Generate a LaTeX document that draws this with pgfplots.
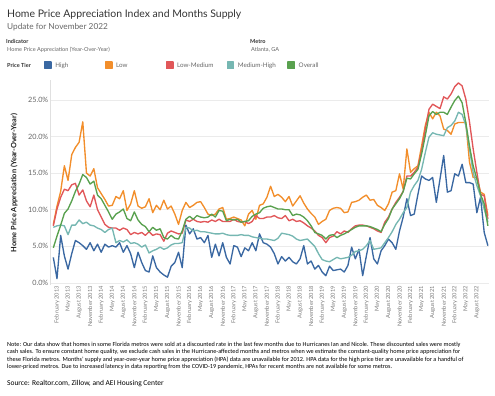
\documentclass[border=0pt]{standalone}
\usepackage{fontspec}
\setmainfont{Lato}
\newfontfamily\carlito{Carlito}
\usepackage{pgfplots}
\pgfplotsset{compat=1.18}
\usepackage{pgfplotstable}
\definecolor{cHigh}{HTML}{3A68A2}
\definecolor{cLow}{HTML}{F28E2B}
\definecolor{cLM}{HTML}{E15759}
\definecolor{cMH}{HTML}{76B7B2}
\definecolor{cOv}{HTML}{59A14F}
\definecolor{tdark}{HTML}{333333}
\definecolor{tgray}{HTML}{666666}
\definecolor{tlight}{HTML}{7A7A7A}
\newcommand\fs[1]{\fontsize{#1pt}{#1pt}\selectfont}

\pgfplotstableread{
m v
0 3.5
1 0.6
2 6.5
3 3.7
4 1.9
5 4.0
6 5.8
7 5.5
8 5.1
9 4.6
10 5.5
11 4.4
12 5.3
13 4.2
14 5.3
15 4.9
16 5.1
17 4.9
18 5.5
19 4.2
20 5.1
21 4.0
22 2.1
23 4.2
24 2.8
25 1.7
26 1.5
27 3.7
28 2.1
29 1.5
30 1.1
31 0.8
32 2.3
33 2.8
34 4.2
35 2.1
36 7.9
37 6.7
38 7.4
39 6.0
40 6.2
41 5.5
42 6.5
43 3.5
44 5.3
45 3.7
46 5.5
47 3.5
48 2.6
49 5.1
50 4.9
51 3.6
52 4.8
53 4.4
54 5.5
55 4.4
56 6.7
57 5.5
58 5.3
59 4.9
60 4.0
61 2.6
62 3.6
63 3.0
64 3.5
65 2.9
66 2.6
67 3.3
68 5.1
69 2.6
70 3.0
71 1.9
72 2.4
73 1.5
74 1.0
75 2.3
76 1.7
77 1.8
78 1.9
79 1.5
80 2.4
81 4.9
82 3.3
83 4.6
84 1.0
85 3.7
86 6.2
87 3.3
88 2.6
89 4.4
90 5.1
91 6.0
92 5.5
93 4.6
94 7.1
95 9.0
96 11.5
97 9.2
98 9.4
99 12.1
100 14.6
101 14.2
102 14.0
103 14.4
104 11.0
105 14.2
106 17.4
107 12.4
108 12.6
109 14.9
110 14.6
111 16.2
112 13.7
113 13.7
114 13.5
115 9.6
116 11.7
117 6.9
118 5.1
}\High

\pgfplotstableread{
m v
0 8.0
1 10.5
2 12.5
3 16.0
4 14.0
5 17.5
6 18.5
7 19.2
8 22.0
9 15.0
10 14.6
11 15.6
12 13.0
13 12.2
14 11.4
15 10.5
16 10.6
17 11.8
18 11.5
19 12.6
20 9.9
21 10.8
22 12.6
23 10.5
24 10.2
25 10.4
26 11.5
27 9.6
28 10.6
29 10.0
30 11.3
31 10.1
32 10.5
33 9.4
34 8.0
35 9.9
36 11.0
37 10.3
38 10.6
39 11.0
40 11.1
41 10.3
42 9.4
43 9.2
44 9.4
45 10.1
46 10.3
47 8.7
48 8.8
49 9.0
50 8.8
51 8.6
52 7.8
53 9.4
54 9.9
55 8.7
56 10.6
57 10.8
58 11.7
59 13.2
60 11.8
61 12.1
62 11.7
63 11.1
64 11.8
65 10.5
66 11.2
67 11.9
68 10.9
69 10.1
70 9.5
71 9.0
72 8.0
73 8.4
74 8.7
75 9.9
76 10.2
77 10.3
78 10.2
79 9.6
80 9.7
81 11.0
82 11.1
83 11.3
84 11.7
85 12.0
86 11.3
87 11.4
88 10.6
89 10.3
90 9.9
91 10.8
92 12.4
93 12.6
94 14.9
95 12.8
96 18.3
97 15.1
98 15.6
99 16.0
100 18.7
101 21.5
102 23.3
103 22.4
104 23.3
105 22.8
106 21.0
107 20.8
108 20.3
109 21.7
110 21.9
111 21.9
112 21.9
113 16.5
114 14.4
115 14.4
116 12.4
117 12.1
118 9.2
}\Low

\pgfplotstableread{
m v
0 7.8
1 10.1
2 11.7
3 12.8
4 12.6
5 13.4
6 13.6
7 12.0
8 12.7
9 11.2
10 10.4
11 12.0
12 10.0
13 9.0
14 8.0
15 7.6
16 7.5
17 7.5
18 7.2
19 7.5
20 7.3
21 6.6
22 6.9
23 6.7
24 6.9
25 6.5
26 7.0
27 6.5
28 6.7
29 6.6
30 5.7
31 6.8
32 7.1
33 6.9
34 6.7
35 6.8
36 8.6
37 8.4
38 8.7
39 8.4
40 8.3
41 8.4
42 8.3
43 8.6
44 8.4
45 8.7
46 8.4
47 8.4
48 8.4
49 8.7
50 8.4
51 8.3
52 8.4
53 8.1
54 8.4
55 9.2
56 8.8
57 8.8
58 9.0
59 9.0
60 9.2
61 8.9
62 8.8
63 9.2
64 8.5
65 8.7
66 8.4
67 8.5
68 8.2
69 7.8
70 7.5
71 7.1
72 6.5
73 6.2
74 5.5
75 6.2
76 6.4
77 7.0
78 6.7
79 7.1
80 6.9
81 7.4
82 7.8
83 7.9
84 7.9
85 7.8
86 7.6
87 7.4
88 7.1
89 6.9
90 8.3
91 9.0
92 10.1
93 11.0
94 11.7
95 12.5
96 14.6
97 14.6
98 15.1
99 15.8
100 18.0
101 21.0
102 23.7
103 24.4
104 24.1
105 23.8
106 25.4
107 25.1
108 25.8
109 26.8
110 27.3
111 26.9
112 25.1
113 22.0
114 18.3
115 15.1
116 12.1
117 11.9
118 8.7
}\LowMed

\pgfplotstableread{
m v
0 7.6
1 7.8
2 7.9
3 7.8
4 6.6
5 7.9
6 7.9
7 8.6
8 8.1
9 8.3
10 7.9
11 7.8
12 7.5
13 7.3
14 6.9
15 7.3
16 7.5
17 5.5
18 5.8
19 5.6
20 5.9
21 5.4
22 5.5
23 5.3
24 4.9
25 5.2
26 4.1
27 4.4
28 4.6
29 4.9
30 4.6
31 4.8
32 5.2
33 5.4
34 5.4
35 5.5
36 7.6
37 7.5
38 7.1
39 7.2
40 7.0
41 7.0
42 6.9
43 6.8
44 6.7
45 6.7
46 6.8
47 6.6
48 6.5
49 6.5
50 6.5
51 6.6
52 6.5
53 6.5
54 6.3
55 6.2
56 6.1
57 6.0
58 6.0
59 5.9
60 5.8
61 6.1
62 6.8
63 6.7
64 6.6
65 6.4
66 6.0
67 5.8
68 5.9
69 6.0
70 5.5
71 5.0
72 4.0
73 3.2
74 3.0
75 2.9
76 3.2
77 3.5
78 3.3
79 3.4
80 3.5
81 3.8
82 4.3
83 4.4
84 4.6
85 5.1
86 5.8
87 4.6
88 4.7
89 4.8
90 5.5
91 6.2
92 7.0
93 8.0
94 8.7
95 9.6
96 10.3
97 12.4
98 13.3
99 14.0
100 15.5
101 17.8
102 19.9
103 20.5
104 20.3
105 20.2
106 20.1
107 21.2
108 21.5
109 22.1
110 23.3
111 23.0
112 21.5
113 18.3
114 15.1
115 13.3
116 11.9
117 10.1
118 8.3
}\MedHigh

\pgfplotstableread{
m v
0 4.8
1 6.4
2 7.9
3 9.5
4 10.1
5 11.2
6 12.5
7 13.5
8 14.8
9 14.4
10 13.5
11 13.9
12 12.0
13 11.5
14 10.6
15 9.7
16 8.7
17 9.4
18 9.7
19 10.1
20 8.8
21 8.5
22 9.7
23 8.6
24 8.0
25 7.7
26 7.0
27 7.6
28 7.2
29 7.4
30 6.2
31 6.0
32 6.5
33 6.1
34 6.0
35 7.1
36 8.7
37 9.1
38 8.7
39 9.2
40 9.0
41 8.9
42 9.0
43 9.4
44 9.0
45 9.9
46 9.8
47 8.5
48 8.7
49 8.6
50 8.7
51 8.3
52 8.4
53 8.5
54 9.1
55 9.4
56 9.6
57 10.2
58 10.4
59 10.5
60 10.3
61 10.1
62 10.1
63 10.0
64 10.0
65 9.2
66 9.4
67 9.3
68 9.0
69 8.5
70 7.8
71 6.9
72 6.7
73 6.5
74 6.0
75 6.5
76 6.6
77 6.2
78 6.5
79 6.7
80 7.0
81 7.3
82 7.6
83 7.8
84 7.8
85 7.8
86 7.7
87 7.5
88 7.3
89 7.0
90 8.0
91 8.8
92 10.1
93 10.8
94 11.5
95 12.5
96 14.3
97 14.2
98 14.9
99 15.5
100 17.6
101 20.1
102 22.8
103 23.4
104 23.0
105 23.3
106 23.3
107 23.0
108 24.0
109 24.9
110 25.5
111 24.6
112 21.9
113 18.7
114 16.0
115 14.2
116 12.1
117 10.8
118 7.8
}\Overall

\begin{document}
\begin{tikzpicture}
\path[use as bounding box] (0bp,0bp) rectangle (495bp,396bp);
\begin{axis}[
  at={(50bp,111bp)}, anchor=south west,
  scale only axis, width=439bp, height=205bp,
  xmin=-0.9, xmax=118.3, ymin=-0.27, ymax=27.7,
  axis lines*=left,
  x axis line style={draw=none},
  y axis line style={draw=black!12, line width=0.5bp},
  major tick length=0pt,
  ytick={0,5,10,15,20,25},
  yticklabels={0.0\%,5.0\%,10.0\%,15.0\%,20.0\%,25.0\%},
  yticklabel style={font=\fs{7.3}, text=tgray, inner sep=1.5bp},
  ymajorgrids, major grid style={draw=black!8, line width=0.5bp},
  xtick={1,4,...,115},
  xticklabels={February 2013,May 2013,August 2013,November 2013,
    February 2014,May 2014,August 2014,November 2014,
    February 2015,May 2015,August 2015,November 2015,
    February 2016,May 2016,August 2016,November 2016,
    February 2017,May 2017,August 2017,November 2017,
    February 2018,May 2018,August 2018,November 2018,
    February 2019,May 2019,August 2019,November 2019,
    February 2020,May 2020,August 2020,November 2020,
    February 2021,May 2021,August 2021,November 2021,
    February 2022,May 2022,August 2022},
  xticklabel style={rotate=90, anchor=east, font=\fs{5.7}, text=tlight, inner sep=1bp},
  clip=false,
  every axis plot/.append style={line width=1.35bp, line join=round},
  legend columns=5,
  legend cell align=left,
  legend style={at={(-0.0137,1.0717)}, anchor=west, draw=none, fill=none,
    inner sep=0pt, outer sep=0pt, font=\fs{6.3}, text=tgray,
    nodes={inner sep=0pt}, /tikz/every even column/.append style={column sep=0pt}},
  legend image code/.code={\fill[#1] (0bp,-3bp) rectangle (6.5bp,3.5bp);},
]
\addplot[cHigh] table[x=m,y=v] {\High};
\addlegendentry{\hspace*{3.5bp}\makebox[49.5bp][l]{High}}
\addplot[cLow] table[x=m,y=v] {\Low};
\addlegendentry{\hspace*{3.5bp}\makebox[49.5bp][l]{Low}}
\addplot[cLM] table[x=m,y=v] {\LowMed};
\addlegendentry{\hspace*{3.5bp}\makebox[49.5bp][l]{Low-Medium}}
\addplot[cMH] table[x=m,y=v] {\MedHigh};
\addlegendentry{\hspace*{3.5bp}\makebox[49.5bp][l]{Medium-High}}
\addplot[cOv] table[x=m,y=v] {\Overall};
\addlegendentry{\hspace*{3.5bp}\makebox[49.5bp][l]{Overall}}
\end{axis}
\node[anchor=base west, inner sep=0pt, font=\fs{10.5}, text=tdark] at (7bp,378bp) {Home Price Appreciation Index and Months Supply};
\node[anchor=base west, inner sep=0pt, font=\fs{8.3}, text=tgray] at (7bp,366.5bp) {Update for November 2022};
\node[anchor=base west, inner sep=0pt, font=\bfseries\fs{5.6}, text=tdark] at (6bp,352.7bp) {Indicator};
\node[anchor=base west, inner sep=0pt, font=\fs{5.6}, text=tgray] at (7bp,344bp) {Home Price Appreciation (Year-Over-Year)};
\node[anchor=base west, inner sep=0pt, font=\bfseries\fs{5.6}, text=tdark] at (250bp,352.7bp) {Metro};
\node[anchor=base west, inner sep=0pt, font=\fs{5.6}, text=tgray] at (251bp,344bp) {Atlanta, GA};
\node[anchor=west, inner sep=0pt, font=\bfseries\fs{5.6}, text=tdark] at (7bp,330.7bp) {Price Tier};
\node[rotate=90, inner sep=0pt, font=\bfseries\fs{7.4}, text=black!90] at (14bp,213bp) {Home Price Appreciation (Year-Over-Year)};
\node[anchor=base west, inner sep=0pt, font=\carlito\fs{6.22}] at (7bp,49.5bp) {Note: Our data show that homes in some Florida metros were sold at a discounted rate in the last few months due to Hurricanes Ian and Nicole. These discounted sales were mostly};
\node[anchor=base west, inner sep=0pt, font=\carlito\fs{6.22}] at (7bp,42bp) {cash sales. To ensure constant home quality, we exclude cash sales in the Hurricane-affected months and metros when we estimate the constant-quality home price appreciation for};
\node[anchor=base west, inner sep=0pt, font=\carlito\fs{6.22}] at (7bp,35bp) {these Florida metros. Months’ supply and year-over-year home price appreciation (HPA) data are unavailable for 2012. HPA data for the high price tier are unavailable for a handful of};
\node[anchor=base west, inner sep=0pt, font=\carlito\fs{6.22}] at (7bp,28bp) {lower-priced metros. Due to increased latency in data reporting from the COVID-19 pandemic, HPAs for recent months are not available for some metros.};
\node[anchor=base west, inner sep=0pt, font=\carlito\fs{7.5}] at (7bp,10.5bp) {Source: Realtor.com, Zillow, and AEI Housing Center};
\end{tikzpicture}
\end{document}
